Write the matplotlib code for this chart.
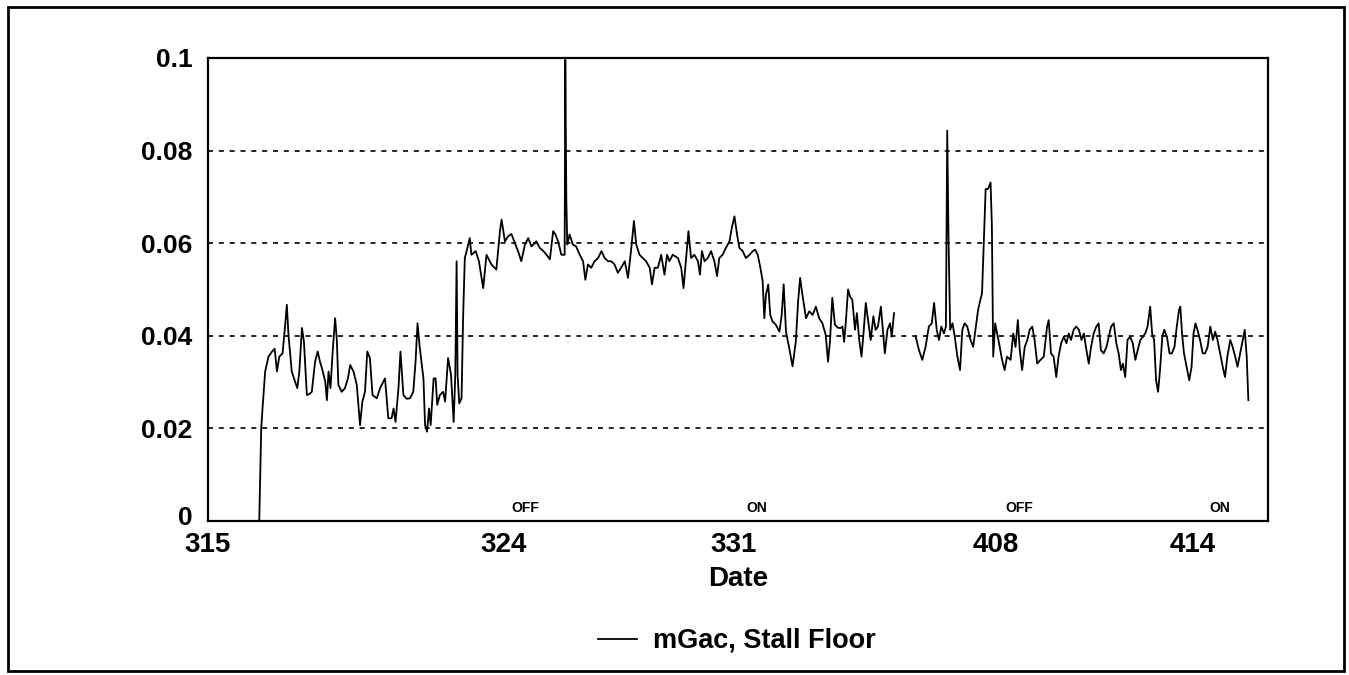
import numpy as np
import matplotlib
matplotlib.use("Agg")
import matplotlib.pyplot as plt
import matplotlib.transforms as mtransforms
from matplotlib.patches import Rectangle

# days since 3/15, and mGac readings (stall floor)
day_a = [1.56, 1.59, 1.62, 1.66, 1.74, 1.84, 1.95, 2.03, 2.10, 2.17, 2.27, 2.35, 2.40, 2.45,
         2.55, 2.65, 2.72, 2.78, 2.86, 2.92, 3.01, 3.08, 3.16, 3.26, 3.34, 3.41, 3.47, 3.57,
         3.62, 3.67, 3.73, 3.79, 3.87, 3.92, 3.97, 4.07, 4.17, 4.26, 4.33, 4.43, 4.53, 4.63,
         4.70, 4.78, 4.85, 4.93, 5.01, 5.14, 5.24, 5.39, 5.49, 5.59, 5.65, 5.71, 5.80, 5.86,
         5.95, 6.05, 6.15, 6.25, 6.32, 6.38, 6.45, 6.56, 6.61, 6.67, 6.73, 6.78, 6.87, 6.93,
         6.98, 7.06, 7.16, 7.22, 7.31, 7.40, 7.48, 7.53, 7.57, 7.60, 7.65, 7.72, 7.77, 7.82,
         7.90, 7.97, 8.02, 8.15, 8.25, 8.38, 8.48, 8.63, 8.78, 8.89, 8.94, 9.04, 9.14, 9.24,
         9.34, 9.44, 9.54, 9.65, 9.75, 9.85, 10.00, 10.10, 10.21, 10.31, 10.41, 10.51, 10.58,
         10.66, 10.76, 10.86, 10.88, 10.91, 10.94, 11.01, 11.11, 11.21, 11.32, 11.42, 11.49,
         11.57, 11.67, 11.77, 11.88, 11.98, 12.08, 12.18, 12.28, 12.38, 12.48, 12.58, 12.69,
         12.79, 12.89, 12.97, 13.04, 13.14, 13.24, 13.34, 13.45, 13.52, 13.60, 13.70, 13.80,
         13.90, 13.98, 14.05, 14.15, 14.31, 14.41, 14.48, 14.56, 14.63, 14.71, 14.81, 14.92,
         14.98, 15.04, 15.12, 15.22, 15.32, 15.42, 15.50, 15.57, 15.67, 15.77, 15.88, 15.95,
         16.03, 16.11, 16.18, 16.28, 16.38, 16.49, 16.59, 16.66, 16.74, 16.82, 16.89, 16.94,
         16.99, 17.06, 17.12, 17.19, 17.29, 17.40, 17.47, 17.53, 17.60, 17.70, 17.80, 17.90,
         17.97, 18.03, 18.10, 18.21, 18.31, 18.41, 18.51, 18.61, 18.71, 18.81, 18.88, 18.94,
         19.01, 19.09, 19.19, 19.27, 19.32, 19.37, 19.42, 19.49, 19.55, 19.62, 19.70, 19.76,
         19.83, 19.90, 19.96, 20.03, 20.10, 20.18, 20.26, 20.33, 20.40, 20.49, 20.56, 20.61,
         20.69, 20.77, 20.82, 20.89]
mgac_a = [0.0, 0.0099, 0.0200, 0.0243, 0.0323, 0.0355, 0.0366, 0.0372, 0.0323, 0.0355, 0.0362,
          0.0424, 0.0467, 0.0402, 0.0323, 0.0301, 0.0287, 0.0323, 0.0417, 0.0388, 0.0272, 0.0274,
          0.0279, 0.0344, 0.0366, 0.0344, 0.0330, 0.0301, 0.0261, 0.0323, 0.0287, 0.0359, 0.0438,
          0.0395, 0.0294, 0.0279, 0.0287, 0.0308, 0.0337, 0.0323, 0.0294, 0.0207, 0.0258, 0.0279,
          0.0366, 0.0352, 0.0272, 0.0265, 0.0287, 0.0308, 0.0222, 0.0222, 0.0243, 0.0214, 0.0287,
          0.0366, 0.0272, 0.0264, 0.0265, 0.0279, 0.0344, 0.0427, 0.0373, 0.0308, 0.0207, 0.0193,
          0.0243, 0.0207, 0.0308, 0.0308, 0.0251, 0.0272, 0.0279, 0.0258, 0.0352, 0.0316, 0.0214,
          0.0316, 0.0561, 0.0316, 0.0254, 0.0265, 0.0445, 0.0568, 0.0590, 0.0611, 0.0575, 0.0583,
          0.0561, 0.0503, 0.0575, 0.0554, 0.0543, 0.0626, 0.0651, 0.0604, 0.0615, 0.0620, 0.0601,
          0.0583, 0.0561, 0.0597, 0.0611, 0.0593, 0.0604, 0.0590, 0.0583, 0.0575, 0.0565, 0.0626,
          0.0619, 0.0604, 0.0575, 0.0575, 0.0996, 0.0698, 0.0597, 0.0619, 0.0597, 0.0593, 0.0575,
          0.0561, 0.0521, 0.0554, 0.0547, 0.0561, 0.0568, 0.0583, 0.0568, 0.0561, 0.0561, 0.0554,
          0.0536, 0.0547, 0.0561, 0.0525, 0.0590, 0.0648, 0.0597, 0.0575, 0.0568, 0.0561, 0.0547,
          0.0511, 0.0547, 0.0547, 0.0575, 0.0532, 0.0575, 0.0561, 0.0575, 0.0568, 0.0547, 0.0503,
          0.0568, 0.0626, 0.0568, 0.0575, 0.0561, 0.0532, 0.0583, 0.0561, 0.0568, 0.0583, 0.0561,
          0.0529, 0.0568, 0.0575, 0.0590, 0.0604, 0.0633, 0.0658, 0.0619, 0.0590, 0.0583, 0.0568,
          0.0575, 0.0583, 0.0586, 0.0575, 0.0547, 0.0518, 0.0438, 0.0489, 0.0511, 0.0445, 0.0431,
          0.0424, 0.0409, 0.0445, 0.0511, 0.0409, 0.0373, 0.0334, 0.0388, 0.0475, 0.0525, 0.0489,
          0.0438, 0.0453, 0.0445, 0.0463, 0.0438, 0.0427, 0.0402, 0.0344, 0.0388, 0.0482, 0.0424,
          0.0417, 0.0417, 0.0420, 0.0387, 0.0427, 0.0500, 0.0485, 0.0478, 0.0413, 0.0449, 0.0391,
          0.0355, 0.0405, 0.0471, 0.0434, 0.0391, 0.0442, 0.0413, 0.0420, 0.0463, 0.0405, 0.0362,
          0.0413, 0.0427, 0.0398, 0.0449]

day_b = [21.55, 21.65, 21.75, 21.85, 21.95, 22.04, 22.11, 22.19, 22.26, 22.33, 22.41, 22.47,
         22.51, 22.55, 22.60, 22.67, 22.74, 22.82, 22.90, 22.97, 23.04, 23.12, 23.22, 23.30,
         23.37, 23.45, 23.52, 23.57, 23.62, 23.68, 23.75, 23.83, 23.87, 23.91, 23.97, 24.03,
         24.11, 24.18, 24.26, 24.33, 24.44, 24.52, 24.59, 24.66, 24.72, 24.79, 24.87, 24.95,
         25.02, 25.10, 25.17, 25.25, 25.35, 25.45, 25.55, 25.60, 25.67, 25.75, 25.83, 25.90,
         25.98, 26.06, 26.14, 26.21, 26.28, 26.36, 26.44, 26.52, 26.60, 26.67, 26.75, 26.82,
         26.89, 26.97, 27.05, 27.12, 27.19, 27.27, 27.36, 27.43, 27.50, 27.58, 27.66, 27.73,
         27.80, 27.86, 27.93, 28.00, 28.08, 28.16, 28.24, 28.31, 28.39, 28.47, 28.54, 28.61,
         28.69, 28.75, 28.81, 28.87, 28.93, 28.99, 29.06, 29.12, 29.20, 29.28, 29.35, 29.43,
         29.50, 29.57, 29.61, 29.66, 29.72, 29.80, 29.88, 29.95, 30.01, 30.07, 30.13, 30.21,
         30.29, 30.36, 30.44, 30.52, 30.60, 30.67, 30.74, 30.82, 30.90, 30.97, 31.04, 31.13,
         31.20, 31.28, 31.35, 31.43, 31.51, 31.57, 31.63, 31.68]
mgac_b = [0.0398, 0.0369, 0.0348, 0.0376, 0.0420, 0.0427, 0.0471, 0.0413, 0.0391, 0.0420, 0.0405,
          0.0420, 0.0843, 0.0608, 0.0413, 0.0427, 0.0398, 0.0355, 0.0326, 0.0413, 0.0427, 0.0420,
          0.0391, 0.0376, 0.0413, 0.0456, 0.0478, 0.0492, 0.0594, 0.0717, 0.0717, 0.0731, 0.0637,
          0.0355, 0.0427, 0.0405, 0.0376, 0.0348, 0.0326, 0.0355, 0.0348, 0.0405, 0.0376, 0.0434,
          0.0369, 0.0326, 0.0376, 0.0391, 0.0413, 0.0420, 0.0391, 0.0340, 0.0348, 0.0355, 0.0420,
          0.0434, 0.0362, 0.0355, 0.0311, 0.0355, 0.0384, 0.0398, 0.0384, 0.0405, 0.0391, 0.0413,
          0.0420, 0.0413, 0.0391, 0.0405, 0.0369, 0.0340, 0.0376, 0.0405, 0.0420, 0.0427, 0.0369,
          0.0362, 0.0376, 0.0398, 0.0420, 0.0427, 0.0384, 0.0362, 0.0326, 0.0340, 0.0311, 0.0391,
          0.0398, 0.0384, 0.0348, 0.0369, 0.0391, 0.0398, 0.0405, 0.0420, 0.0463, 0.0405, 0.0391,
          0.0304, 0.0279, 0.0326, 0.0398, 0.0413, 0.0398, 0.0362, 0.0362, 0.0376, 0.0420, 0.0456,
          0.0463, 0.0405, 0.0362, 0.0333, 0.0304, 0.0333, 0.0405, 0.0427, 0.0413, 0.0391, 0.0362,
          0.0362, 0.0376, 0.0420, 0.0391, 0.0409, 0.0391, 0.0362, 0.0333, 0.0311, 0.0355, 0.0391,
          0.0376, 0.0355, 0.0333, 0.0362, 0.0391, 0.0413, 0.0355, 0.0261]

tick_days = [0, 9, 16, 24, 30]
tick_labels = ['315', '324', '331', '408', '414']
switch_days = [9.67, 16.72, 24.71, 30.82]
switch_labels = ['OFF', 'ON', 'OFF', 'ON']

font = ['Liberation Sans', 'DejaVu Sans']

# gap in the record between the two parts
x = np.concatenate([day_a, [np.nan], day_b])
y = np.concatenate([mgac_a, [np.nan], mgac_b])

fig = plt.figure(figsize=(13.49, 6.75), dpi=100)
ax = fig.add_axes([0.1542, 0.2281, 0.7858, 0.686])

ax.plot(x, y, color='black', linewidth=1.3, label='mGac, Stall Floor')

ax.set_xlim(0, 32.28)
ax.set_ylim(0, 0.1)
ax.set_yticks([0, 0.02, 0.04, 0.06, 0.08, 0.1])
ax.set_yticklabels(['0', '0.02', '0.04', '0.06', '0.08', '0.1'])
ax.set_xticks(tick_days)
ax.set_xticklabels(tick_labels)
for t in ax.get_yticklabels():
    t.set_family(font)
    t.set_fontweight('bold')
    t.set_fontsize(19)
for t in ax.get_xticklabels():
    t.set_family(font)
    t.set_fontweight('bold')
    t.set_fontsize(20)
ax.tick_params(axis='y', length=0, pad=11)
ax.tick_params(axis='x', length=0, pad=8)

# lift the "0" a touch so it sits clear of the "315" below it
zero_lbl = ax.get_yticklabels()[0]
zero_lbl.set_transform(zero_lbl.get_transform() +
                       mtransforms.ScaledTranslation(0, 4 / 72, fig.dpi_scale_trans))

for gy in [0.02, 0.04, 0.06, 0.08]:
    ax.axhline(gy, color='black', linewidth=1.2, linestyle=(0, (3, 3.5)), zorder=1)

for s in ax.spines.values():
    s.set_linewidth(1.6)

for d, lab in zip(switch_days, switch_labels):
    ax.text(d, 0.0012, lab, ha='center', va='bottom', family=font,
            fontweight='bold', fontsize=10)

ax.set_xlabel('Date', family=font, fontweight='bold', fontsize=20, labelpad=6)

leg = ax.legend(loc='center', bbox_to_anchor=(0.5463, 0.0504), bbox_transform=fig.transFigure,
                frameon=False, handlelength=1.45, handletextpad=0.6,
                prop={'family': font, 'weight': 'bold', 'size': 19.5})

# outer border
fig.patches.append(Rectangle((8 / 1349, 1 - 671 / 675), 1336 / 1349, 664 / 675,
                             transform=fig.transFigure, fill=False,
                             edgecolor='black', linewidth=2))

fig.savefig('out.png', dpi=100)
